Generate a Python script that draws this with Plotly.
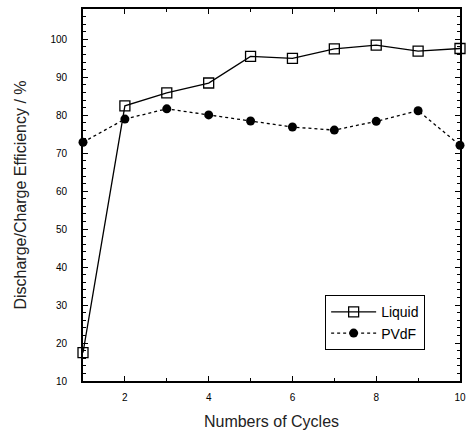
import plotly.graph_objects as go

cycles = [1, 2, 3, 4, 5, 6, 7, 8, 9, 10]
liquid = [17.5, 82.5, 85.9, 88.5, 95.5, 95.0, 97.5, 98.5, 96.9, 97.6]
pvdf = [72.9, 79.0, 81.7, 80.1, 78.5, 76.9, 76.1, 78.4, 81.2, 72.1]

fig = go.Figure()
fig.add_trace(go.Scatter(
    x=cycles, y=liquid, name="Liquid", mode="lines+markers",
    line=dict(color="black", width=1.3),
    marker=dict(symbol="square-open", size=10, color="black", line=dict(width=1.3)),
    cliponaxis=False,
))
fig.add_trace(go.Scatter(
    x=cycles, y=pvdf, name="PVdF", mode="lines+markers",
    line=dict(color="black", width=1.3, dash="dot"),
    marker=dict(symbol="circle", size=9, color="black"),
    cliponaxis=False,
))

axis_common = dict(
    showline=True, linecolor="black", linewidth=1.6, mirror="ticks",
    ticks="inside", tickcolor="black", ticklen=5, tickwidth=1.2,
    showgrid=False, zeroline=False,
    tickfont=dict(family="Liberation Sans, Arial, sans-serif", size=10, color="black"),
)

fig.update_layout(
    width=475, height=435,
    margin=dict(l=83, r=15, t=7, b=53),
    plot_bgcolor="white", paper_bgcolor="white",
    font=dict(family="Liberation Sans, Arial, sans-serif", color="black"),
    xaxis=dict(
        range=[1, 10], tickvals=[2, 4, 6, 8, 10],
        minor=dict(tickvals=[3, 5, 7, 9], ticks="inside", ticklen=3, tickcolor="black"),
        ticklabelstandoff=6,
        title=dict(text="Numbers of Cycles", font=dict(size=16, color="#222"), standoff=14),
        **axis_common,
    ),
    yaxis=dict(
        range=[10, 108], tickvals=[10, 20, 30, 40, 50, 60, 70, 80, 90, 100],
        minor=dict(dtick=2, ticks="inside", ticklen=3, tickcolor="black"),
        ticklabelstandoff=12,
        title=dict(text="Discharge/Charge Efficiency / %", font=dict(size=16, color="#222"), standoff=20),
        **axis_common,
    ),
    legend=dict(
        x=0.907, y=0.083, xanchor="right", yanchor="bottom",
        bordercolor="black", borderwidth=1.2, bgcolor="white",
        font=dict(size=14), tracegroupgap=0, itemwidth=45,
    ),
    showlegend=True,
)

fig.write_html("out.html")
